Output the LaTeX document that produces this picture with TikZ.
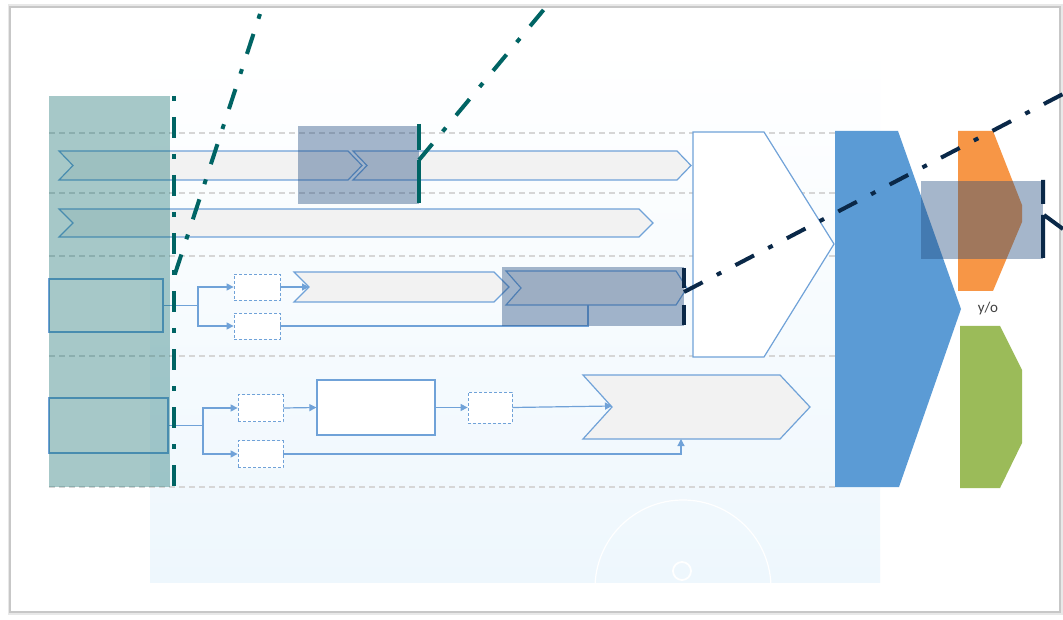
\documentclass[tikz,border=0pt]{standalone}
\usepackage{fontspec}
\setsansfont{Carlito}
\usetikzlibrary{arrows.meta}

\definecolor{teal0}{RGB}{0,100,100}
\definecolor{navy0}{RGB}{10,40,72}
\definecolor{hlblue}{RGB}{31,73,125}
\definecolor{flowblue}{RGB}{112,162,216}
\definecolor{chevgrey}{RGB}{242,242,242}
\definecolor{lanegrey}{RGB}{214,214,214}
\definecolor{stageblue}{RGB}{91,155,213}
\definecolor{stageorange}{RGB}{247,150,70}
\definecolor{stagegreen}{RGB}{155,187,89}
\definecolor{glowblue}{RGB}{238,247,253}

\begin{document}
\begin{tikzpicture}[x=1pt, y=-1pt,
    lane/.style={draw=lanegrey, line width=1.6pt, dash pattern=on 6pt off 4pt},
    chev/.style={draw=flowblue, fill=chevgrey, line width=1.2pt},
    flow/.style={draw=flowblue, line width=1.2pt},
    arr/.style={-{Triangle[length=7pt, width=7pt]}},
    tmpbox/.style={draw=flowblue, fill=white, densely dashed, line width=0.8pt, inner sep=0pt, minimum width=45pt, minimum height=27pt},
    srcbox/.style={draw=flowblue, line width=1.2pt, inner sep=0pt},
    leadline/.style={line width=4pt, dash pattern=on 21pt off 16pt on 5pt off 16pt},
    leaddot/.style={line width=4pt, dash pattern=on 5pt off 16pt on 21pt off 16pt},
    hlbox/.style={fill=hlblue, fill opacity=0.4}]

    \useasboundingbox (0,0) rectangle (1063,620);

    \draw[black!9, line width=5pt] (10,7) rectangle (1060,612);
    \draw[black!22, line width=1.5pt, fill=white] (10,7) rectangle (1060,612);

    \shade[top color=white, middle color=white, bottom color=glowblue] (150,45) rectangle (880,582);
    \begin{scope}
        \clip (150,45) rectangle (880,582);
        \draw[white, line width=1.2pt] (683,588) circle (88pt);
        \draw[white, line width=1.8pt] (682,571) circle (9pt);
    \end{scope}

    \draw[lane] (49,133) -- (835,133);
    \draw[lane] (49,193) -- (835,193);
    \draw[lane] (49,256) -- (835,256);
    \draw[lane] (49,356) -- (835,356);
    \draw[lane] (49,487) -- (835,487);

    \draw[chev] (59,151) -- (348,151) -- (362,165.5) -- (348,180) -- (59,180) -- (73,165.5) -- cycle;
    \draw[chev] (353,151) -- (677,151) -- (691,165.5) -- (677,180) -- (353,180) -- (367,165.5) -- cycle;
    \draw[chev] (59,209) -- (639,209) -- (653,223) -- (639,237) -- (59,237) -- (73,223) -- cycle;
    \draw[chev] (294,272) -- (494,272) -- (509,287) -- (494,302) -- (294,302) -- (309,287) -- cycle;
    \draw[chev] (506,271) -- (676,271) -- (687,288) -- (676,305) -- (506,305) -- (521,288) -- cycle;
    \draw[chev] (583,375) -- (780,375) -- (810,407) -- (780,439) -- (583,439) -- (612,407) -- cycle;

    \draw[flow, fill=white] (693,132) -- (764,132) -- (834,244) -- (764,357) -- (693,357) -- cycle;

    \coordinate (CN) at (309,287);
    \coordinate (DB) at (588,305);
    \coordinate (EN) at (612,406);
    \coordinate (EB) at (681,439);

    \node[srcbox, minimum width=114pt, minimum height=53pt] (src3) at (106,305.5) {};
    \node[tmpbox, minimum width=46pt, minimum height=26pt] (in3a) at (257,287) {};
    \node[tmpbox, minimum width=46pt, minimum height=26pt] (in3b) at (257,326) {};
    \coordinate (fork3) at (198,305.5);

    \node[srcbox, minimum width=119pt, minimum height=55pt] (src4) at (108.5,425.5) {};
    \node[tmpbox] (in4a) at (260.5,408) {};
    \node[tmpbox] (in4b) at (260.5,454) {};
    \node[srcbox, fill=white, minimum width=118pt, minimum height=55pt] (mid4) at (376,407.5) {};
    \node[tmpbox, minimum width=44pt, minimum height=31pt] (out4) at (490,407.5) {};
    \coordinate (fork4) at (203,425.5);

    \draw[flow] (src3.east) -- (fork3);
    \draw[flow, arr] (fork3) |- (in3a.west);
    \draw[flow, arr] (fork3) |- (in3b.west);
    \draw[flow, arr] (in3a.east) -- (CN);
    \draw[flow] (in3b.east) -| (DB);

    \draw[flow] (src4.east) -- (fork4);
    \draw[flow, arr] (fork4) |- (in4a.west);
    \draw[flow, arr] (fork4) |- (in4b.west);
    \draw[flow, arr] (in4a.east) -- (mid4.west);
    \draw[flow, arr] (mid4.east) -- (out4.west);
    \draw[flow, arr] (out4.east) -- (EN);
    \draw[flow, arr] (in4b.east) -| (EB);

    \fill[stageblue] (835,131) -- (898,131) -- (961,309) -- (899,487) -- (835,487) -- cycle;
    \fill[stageorange] (958,131) -- (993,131) -- (1022,205) -- (1022,222) -- (993,291) -- (958,291) -- cycle;
    \fill[stagegreen] (960,326) -- (1000,326) -- (1022,370) -- (1022,443) -- (1000,488) -- (960,488) -- cycle;
    \node[font=\sffamily\fontsize{15}{17}\selectfont, text=black!75] (yo) at (988,309) {y/o};

    \fill[teal0, fill opacity=0.35] (49,96) rectangle (170,487);

    \fill[hlbox] (298,126) rectangle (419,204);
    \fill[hlbox] (502,267) rectangle (684,326);
    \fill[hlbox] (921,181) rectangle (1043,259);

    \draw[teal0, leaddot] (174,96) -- (174,487);
    \draw[teal0, leaddot] (260,14) -- (174,277);
    \draw[teal0, line width=4pt] (419,124) -- (419,150) (419,160) -- (419,203);
    \draw[teal0, leadline] (419,160) -- (546,7);
    \draw[navy0, line width=4pt] (684,268) -- (684,288) (684,305) -- (684,325);
    \draw[navy0, leadline] (684,292) -- (1063,94);
    \draw[navy0, line width=4pt] (1043,180) -- (1043,204) (1043,215) -- (1043,258) (1044,215) -- (1063,229);
\end{tikzpicture}
\end{document}
